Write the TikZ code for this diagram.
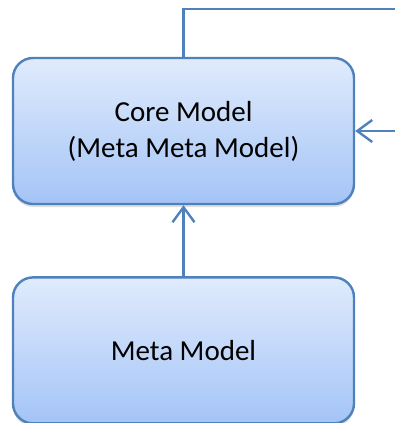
\documentclass[tikz,border=0pt]{standalone}
\usepackage{fontspec}
\setmainfont{Carlito}
\definecolor{boxline}{RGB}{79,129,189}
\definecolor{boxtop}{RGB}{224,235,252}
\definecolor{boxbottom}{RGB}{164,196,247}
\usetikzlibrary{positioning,shadows,arrows.meta}
\tikzstyle{model}=[draw=boxline, line width=2.4pt, rounded corners=20pt,
  top color=boxtop, bottom color=boxbottom, minimum width=341pt,
  minimum height=146pt, align=center, font=\fontsize{29}{36}\selectfont,
  drop shadow={opacity=.25, shadow xshift=0pt, shadow yshift=-3pt}]
\tikzstyle{link}=[boxline, line width=2.4pt]

\begin{document}
\begin{tikzpicture}[x=1pt, y=1pt, node distance=71pt,
    >={Straight Barb[length=15pt,width=22pt]}]
  \useasboundingbox (0,0) rectangle (395,-423);

  \node[model] (core) at (183.5,-131) {Core Model\\(Meta Meta Model)};
  \node[model, below=of core] (meta) {Meta Model};

  % loose ends run off the right edge
  \coordinate (loop) at (396,-9);
  \coordinate (back) at (396,-131);

  \draw[link] (core.north) |- (loop);
  \draw[link, ->] (back) -- (core.east);
  \draw[link, ->] (meta) -- (core);
\end{tikzpicture}
\end{document}
